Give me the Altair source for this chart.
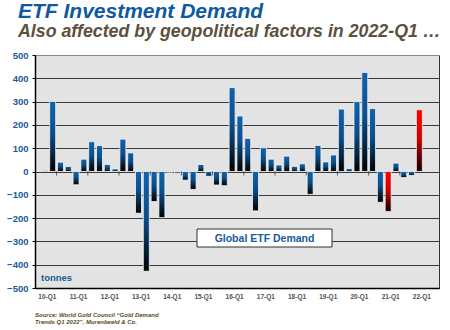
import altair as alt
import pandas as pd

years = ["10", "11", "12", "13", "14", "15", "16", "17", "18", "19", "20", "21", "22"]
quarters = [f"{y}-Q{q}" for y in years for q in (1, 2, 3, 4)][:49]
values = [5, 301, 40, 22, -57, 53, 128, 111, 30, 11, 139, 80,
          -179, -428, -129, -198, -3, -7, -37, -77, 30, -20, -58, -61,
          360, 238, 142, -169, 102, 53, 28, 66, 22, 33, -98, 112,
          41, 71, 268, 12, 300, 425, 270, -132, -172, 36, -26, -17, 265]
highlight = ["21-Q1", "22-Q1"]
xlabels = [f"{y}-Q1" for y in years]

df = pd.DataFrame({"q": quarters, "v": values})
df["i"] = range(len(df))
df["hl"] = df["q"].isin(highlight)

BLUE = "#1a5a9a"
xscale = alt.Scale(domain=[-0.625, 49.875], nice=False, zero=False)
yscale = alt.Scale(domain=[-500, 500], nice=False)

label_expr = "[" + ",".join(f"'{l}'" for l in xlabels) + "][datum.value/4]"

blue_grad = alt.Gradient(gradient="linear", x1=0, x2=0, y1=0, y2=1,
                         stops=[alt.GradientStop(color="#1262aa", offset=0),
                                alt.GradientStop(color="#0b4f8c", offset=0.45),
                                alt.GradientStop(color="#000000", offset=1)])
red_grad = alt.Gradient(gradient="linear", x1=0, x2=0, y1=0, y2=1,
                        stops=[alt.GradientStop(color="#ff0000", offset=0),
                               alt.GradientStop(color="#d00000", offset=0.45),
                               alt.GradientStop(color="#100000", offset=1)])

base = alt.Chart(df)

xaxis = alt.Axis(
    values=list(range(0, 49, 4)), tickCount=50, labelExpr=label_expr, title=None,
    grid=False, ticks=False, domainColor="#000", domainWidth=1.5,
    labelOverlap=False, labelFlush=False, labelBound=False,
    labelFont="Liberation Sans", labelFontSize=6.5, labelFontWeight="bold",
    labelColor="#505050", labelPadding=5, labelOffset=2)
yaxis = alt.Axis(
    values=list(range(-500, 501, 100)), tickCount=50, title=None, grid=True,
    labelOverlap=False, labelFlush=False, labelBound=False,
    gridColor={"condition": {"test": "datum.value >= 500", "value": "#8a8a8a"}, "value": "#3a3a3a"},
    gridWidth=1, domainColor="#000", domainWidth=1.5, tickColor="#000", tickSize=3,
    labelFont="Liberation Sans", labelFontSize=9.5, labelFontWeight="bold",
    labelColor=BLUE, labelPadding=4)

bars = base.mark_bar(size=6, stroke="#f4f4f4", strokeWidth=0.8).encode(
    x=alt.X("i:Q", scale=xscale, axis=xaxis),
    y=alt.Y("v:Q", scale=yscale, axis=yaxis),
    y2=alt.datum(0),
    color=alt.condition("datum.hl", alt.value(red_grad), alt.value(blue_grad)),
)

ticks = alt.Chart(pd.DataFrame({"k": list(range(12))})).transform_calculate(
    tx="datum.k*4+1.5", ty="0"
).mark_tick(color="#222", size=4, thickness=1, orient="vertical", yOffset=2).encode(
    x=alt.X("tx:Q", scale=xscale, axis=xaxis), y=alt.Y("ty:Q", scale=yscale, axis=yaxis))

def txt(t, x, y, **kw):
    return alt.Chart(pd.DataFrame({"t": [t]})).mark_text(**kw).encode(
        x=alt.value(x), y=alt.value(y), text="t:N")

title = txt("ETF Investment Demand", -17, -37, align="left", baseline="alphabetic",
            font="Liberation Sans", fontSize=21, fontWeight="bold", fontStyle="italic", color="#0d5aa0")
subtitle = txt("Also affected by geopolitical factors in 2022-Q1 …", -17, -18, align="left",
               baseline="alphabetic", font="Liberation Sans", fontSize=17.8, fontWeight="bold",
               fontStyle="italic", color="#5b5140")
tonnes = txt("tonnes", 6, 225.5, align="left", baseline="alphabetic", font="Liberation Sans",
             fontSize=9.5, fontWeight="bold", color=BLUE)
src1 = txt("Source: World Gold Council “Gold Demand", 0, 261.5, align="left", baseline="alphabetic",
           font="Liberation Sans", fontSize=6, fontWeight="bold", fontStyle="italic", color="#5a4a2a")
src2 = txt("Trends Q1 2022”, Murenbeeld & Co.", 0, 268.5, align="left", baseline="alphabetic",
           font="Liberation Sans", fontSize=6, fontWeight="bold", fontStyle="italic", color="#5a4a2a")

box = alt.Chart(pd.DataFrame({"a": [0]})).mark_rect(fill="white", stroke="#333", strokeWidth=1).encode(
    x=alt.value(162), x2=alt.value(297), y=alt.value(174), y2=alt.value(192))
boxtxt = txt("Global ETF Demand", 229.5, 183.5, align="center", baseline="middle",
             font="Liberation Sans", fontSize=10.5, fontWeight="bold", color=BLUE)

chart = alt.layer(bars, ticks, box, boxtxt, tonnes, title, subtitle, src1, src2).properties(
    width=404, height=233,
    autosize=alt.AutoSizeParams(type="none"),
    padding={"left": 35, "top": 55, "right": 11, "bottom": 42},
    background="white",
).configure_view(fill="#e3e3e3", stroke="#333", strokeWidth=1)

chart.save("out.html", embed_options={"renderer": "svg", "actions": False})
